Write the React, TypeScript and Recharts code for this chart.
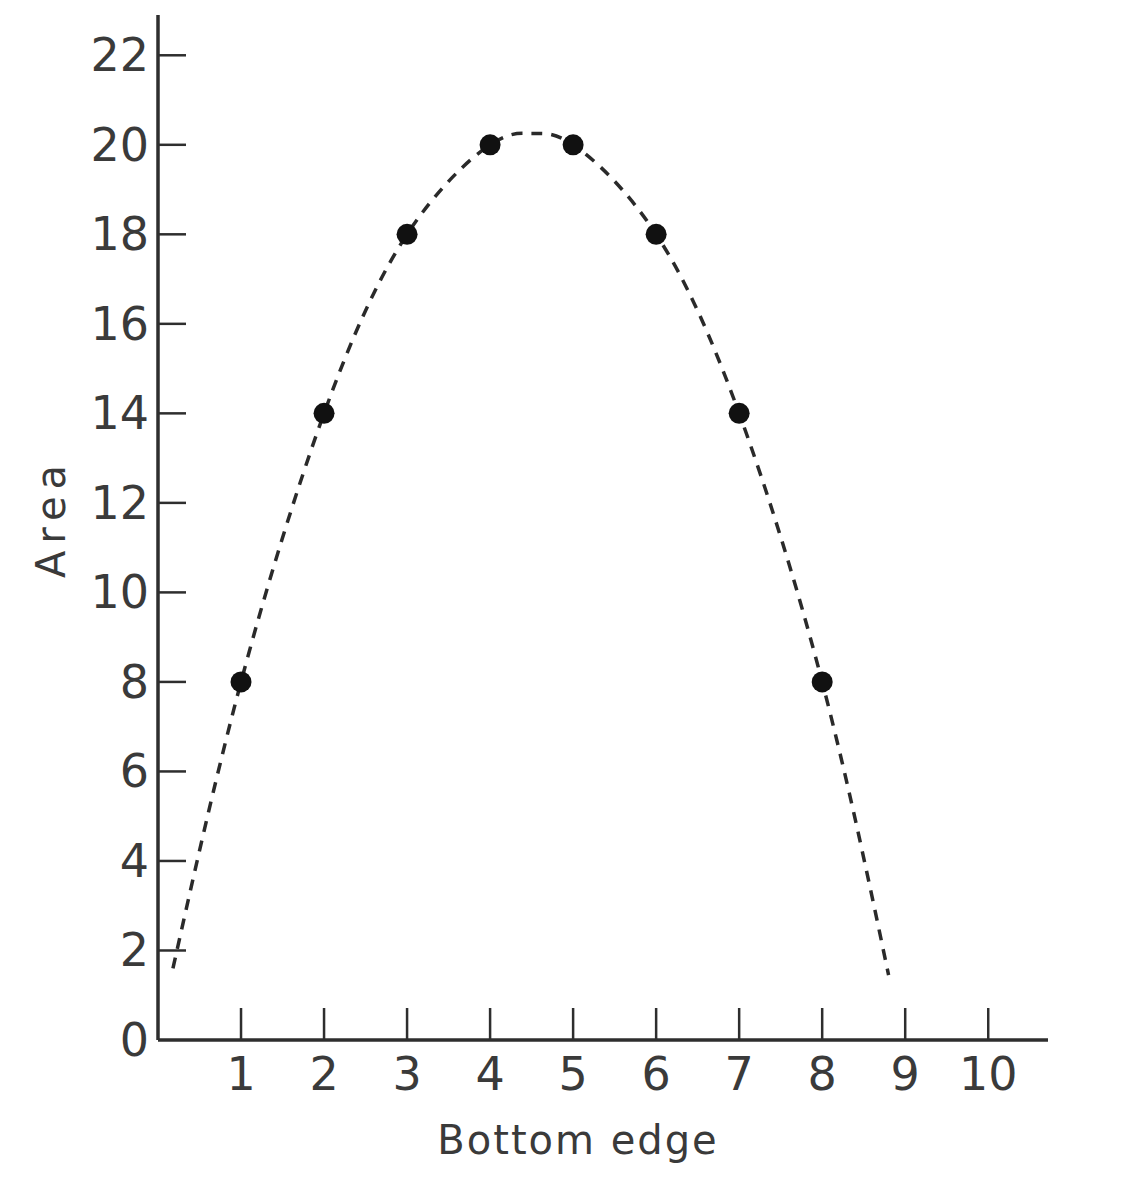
import { ComposedChart, Line, Scatter, XAxis, YAxis, Label } from "recharts";

// measured points (bottom edge vs area)
const bottomEdge = [1, 2, 3, 4, 5, 6, 7, 8];
const area = [8, 14, 18, 20, 20, 18, 14, 8];

// dashed fitted curve
const curveEdge = [0.18, 1, 2, 3, 4, 4.5, 5, 6, 7, 8, 8.8];
const curveArea = [1.6, 8, 14, 18, 20, 20.25, 20, 18, 14, 8, 1.45];

const xTicks = [1, 2, 3, 4, 5, 6, 7, 8, 9, 10];
const yTicks = [0, 2, 4, 6, 8, 10, 12, 14, 16, 18, 20, 22];

const points = bottomEdge.map((x, i) => ({ x, y: area[i] }));
const curve = curveEdge.map((x, i) => ({ x, y: curveArea[i] }));

const ink = "#2e2e2e";
const font = "'DejaVu Sans', sans-serif";

const YTick = (props: any) => {
  const { x, y, payload } = props;
  return (
    <g>
      {payload.value !== 0 && (
        <line x1={x} x2={x + 28} y1={y} y2={y} stroke={ink} strokeWidth={2.5} />
      )}
      <text x={x - 9} y={y} textAnchor="end" dominantBaseline="central"
        fontFamily={font} fontSize={46} fill="#3a3a3a">
        {payload.value}
      </text>
    </g>
  );
};

const XTick = (props: any) => {
  const { x, y, payload } = props;
  return (
    <g>
      <line x1={x} x2={x} y1={y} y2={y - 32} stroke={ink} strokeWidth={2.5} />
      <text x={x} y={y + 50} textAnchor="middle" fontFamily={font} fontSize={46} fill="#3a3a3a">
        {payload.value}
      </text>
    </g>
  );
};

export default function App() {
  return (
    <div style={{ position: "absolute", left: 0, top: 0, width: 1122, height: 1200, background: "#fff" }}>
      <ComposedChart width={1122} height={1200} margin={{ top: 15, right: 74, bottom: 100, left: 98 }}>
        <XAxis
          type="number"
          dataKey="x"
          domain={[0, 10.72]}
          ticks={xTicks}
          allowDataOverflow
          height={60}
          tickSize={0}
          tickMargin={0}
          tickLine={false}
          axisLine={{ stroke: ink, strokeWidth: 3.5 }}
          tick={XTick}
        >
          <Label
            content={(p: any) => (
              <text x={p.viewBox.x + 420} y={p.viewBox.y + 114} textAnchor="middle"
                fontFamily={font} fontSize={40} letterSpacing={2} fill="#3a3a3a">
                Bottom edge
              </text>
            )}
          />
        </XAxis>
        <YAxis
          type="number"
          dataKey="y"
          domain={[0, 22.9]}
          ticks={yTicks}
          allowDataOverflow
          width={60}
          tickSize={0}
          tickMargin={0}
          tickLine={false}
          axisLine={{ stroke: ink, strokeWidth: 3.5 }}
          tick={YTick}
        >
          <Label
            content={() => (
              <text x={51} y={518} transform="rotate(-90, 51, 518)" textAnchor="middle"
                dominantBaseline="central" fontFamily={font} fontSize={40} letterSpacing={7} fill="#3a3a3a">
                Area
              </text>
            )}
          />
        </YAxis>
        <Line
          data={curve}
          dataKey="y"
          type="natural"
          stroke="#2a2a2a"
          strokeWidth={3.5}
          strokeDasharray="11 9"
          dot={false}
          activeDot={false}
          isAnimationActive={false}
        />
        <Scatter
          data={points}
          dataKey="y"
          fill="#111"
          shape={(p: any) => <circle cx={p.cx} cy={p.cy} r={10.5} fill="#111" />}
          isAnimationActive={false}
        />
      </ComposedChart>
    </div>
  );
}
